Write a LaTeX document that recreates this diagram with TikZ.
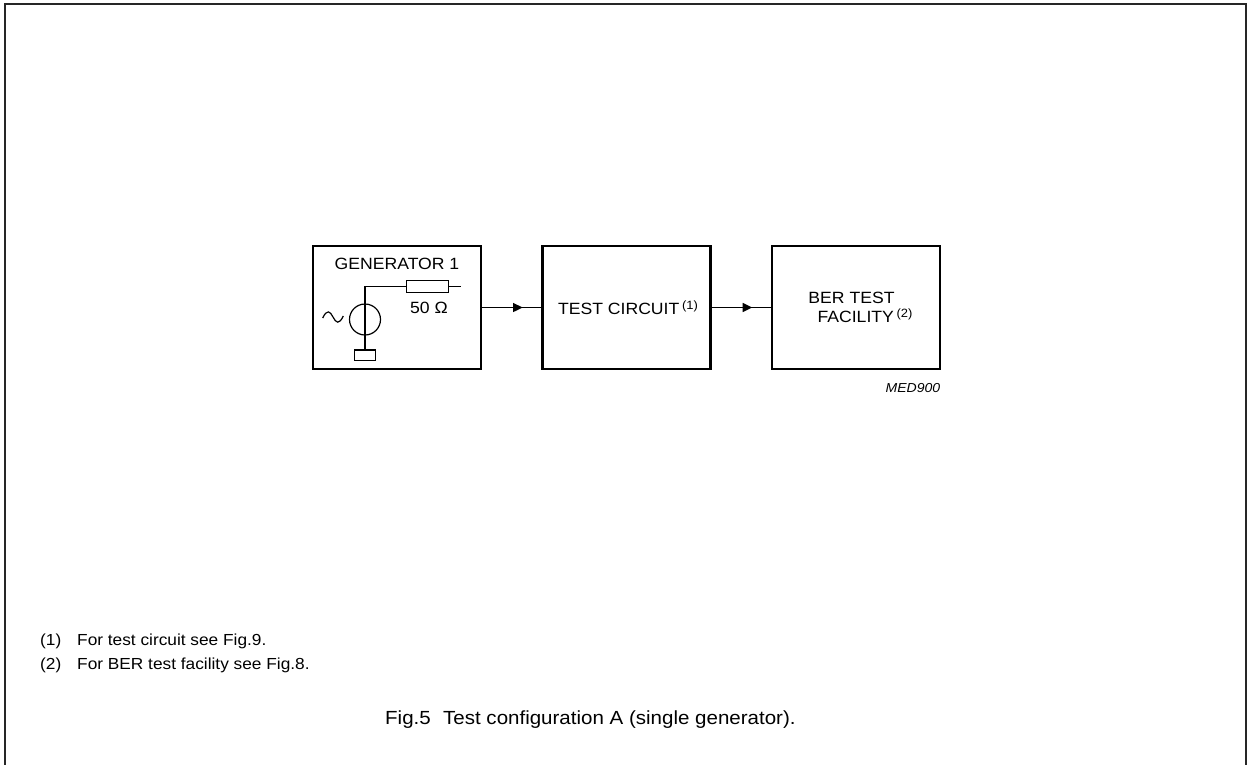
\documentclass[tikz,border=0pt]{standalone}
\usepackage{fontspec}
\setmainfont{Liberation Sans}[FakeStretch=1.08]
\newfontface\italicface{Liberation Sans Italic}[FakeStretch=1.08]
\begin{document}
\begin{tikzpicture}[x=1pt,y=-1pt,
  blockbox/.style={draw,line width=2.4pt,minimum width=168pt,minimum height=123pt,inner sep=0pt},
  wire/.style={line width=1.2pt},
  txt/.style={inner sep=0pt,font=\fontsize{16.3}{19}\selectfont},
  fnote/.style={inner sep=0pt,anchor=west,font=\fontsize{16}{19}\selectfont}
]
\useasboundingbox (0,0) rectangle (1247,764);
% page frame
\draw[line width=1.6pt,black!85] (5,770) -- (5,4) -- (1246,4) -- (1246,770);

% blocks
\node[blockbox] (gen) at (396.75,307.5) {};
\node[blockbox] (tc) at (626.5,307.5) {};
\node[blockbox] (ber) at (856,307.5) {};

% generator contents
\node[txt] (gentxt) at (397,264) {GENERATOR 1};
\coordinate (wtop) at (365,286.7);
\node[draw,wire,minimum width=21pt,minimum height=10.5pt,inner sep=0pt] (gnd) at (365,355.3) {};
\node[draw,wire,circle,minimum size=31pt,inner sep=0pt] (src) at (365,319.5) {};
\node[draw,wire,minimum width=41.5pt,minimum height=12pt,inner sep=0pt] (res) at (427.5,286.7) {};
\coordinate (wend) at (461,286.7);
\draw[wire] (gnd.north) -- (wtop) -- (res.west);
\draw[wire] (res.east) -- (wend);
\node[txt] (ohm) at (429,307.5) {50 Ω};
\draw[wire] (322.7,318) .. controls (327,309) and (330,311) .. (333,317)
   .. controls (336,323) and (339,325) .. (343.3,316);

% test circuit text
\node[txt] (tctxt) at (628,307.5) {TEST CIRCUIT\,\raisebox{5pt}{\fontsize{12}{14}\selectfont(1)}};
% BER text
\node[txt] (bertxt) at (851.5,297.5) {BER TEST};
\node[txt] (factxt) at (865,316) {FACILITY\,\raisebox{5pt}{\fontsize{12}{14}\selectfont(2)}};
\node[inner sep=0pt,anchor=east,font=\fontsize{13}{15}\italicface] (med) at (940.5,388) {MED900};

% connectors
\draw[wire] (gen.east) -- (tc.west) coordinate[pos=0.6] (a1);
\draw[wire] (tc.east) -- (ber.west) coordinate[pos=0.6] (a2);
\fill (a1) ++(5,0) -- ++(-9.5,-4.7) -- ++(0,9.4) -- cycle;
\fill (a2) ++(5,0) -- ++(-9.5,-4.7) -- ++(0,9.4) -- cycle;

% footnotes
\node[fnote] (f1n) at (40,641.5) {(1)};
\node[fnote] (f1t) at (77,641.5) {For test circuit see Fig.9.};
\node[fnote] (f2n) at (40,665) {(2)};
\node[fnote] (f2t) at (77,665) {For BER test facility see Fig.8.};

% caption
\node[inner sep=0pt,anchor=west,font=\fontsize{19}{22}\selectfont] (cap) at (385,720) {Fig.5\hspace{0.65em}Test configuration A (single generator).};
\end{tikzpicture}
\end{document}
